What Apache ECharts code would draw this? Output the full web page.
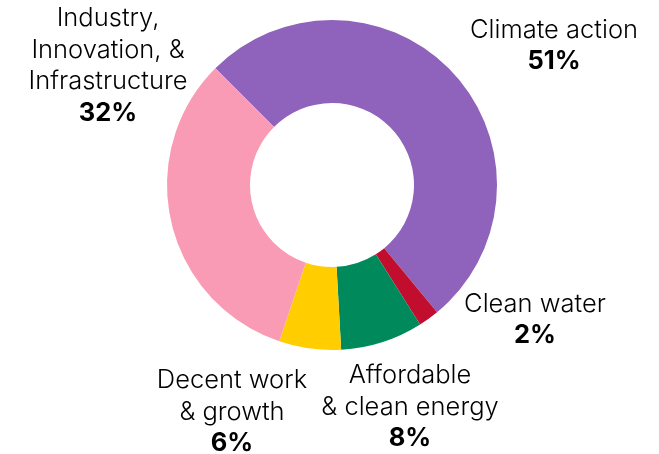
<!DOCTYPE html>
<html>
<head>
<meta charset="utf-8">
<script src="https://cdn.jsdelivr.net/npm/echarts@6/dist/echarts.min.js"></script>
<style>
  html, body { margin: 0; padding: 0; background: #fff; }
  #chart { width: 659px; height: 454px; }
</style>
</head>
<body>
<div id="chart"></div>
<script>
// Share of investment by goal, in percent
const goalNames = [
  'Climate action',
  'Clean water',
  'Affordable\n& clean energy',
  'Decent work\n& growth',
  'Industry,\nInnovation, &\nInfrastructure'
];
const goalShares = [51, 2, 8, 6, 32];
const goalColors = ['#8F62BB', '#C20E2E', '#008A5B', '#FFCD00', '#F99BB4'];

// Where each label block sits (centre of the text block)
const labelSpots = [
  [554, 46],
  [535, 320],
  [410, 407],
  [232, 412],
  [108, 66]
];

const chart = echarts.init(document.getElementById('chart'), null, { renderer: 'canvas' });

chart.setOption({
  animation: false,
  series: [{
    type: 'pie',
    center: [332, 185],
    radius: [82, 165],
    startAngle: 135,
    clockwise: true,
    avoidLabelOverlap: false,
    itemStyle: { borderWidth: 0 },
    labelLine: { show: false },
    label: {
      show: true,
      position: 'outside',
      formatter: p => p.name + '\n{b|' + p.value + '%}',
      fontFamily: 'Inter',
      fontSize: 25.5,
      fontWeight: 300,
      lineHeight: 31.5,
      color: '#000',
      align: 'center',
      rich: {
        b: { fontFamily: 'Inter', fontSize: 25.5, fontWeight: 'bold', lineHeight: 31.5, color: '#000' }
      }
    },
    labelLayout: p => ({
      x: labelSpots[p.dataIndex][0],
      y: labelSpots[p.dataIndex][1],
      align: 'center',
      verticalAlign: 'middle'
    }),
    data: goalNames.map((n, i) => ({
      name: n,
      value: goalShares[i],
      itemStyle: { color: goalColors[i] }
    }))
  }]
});
</script>
</body>
</html>
